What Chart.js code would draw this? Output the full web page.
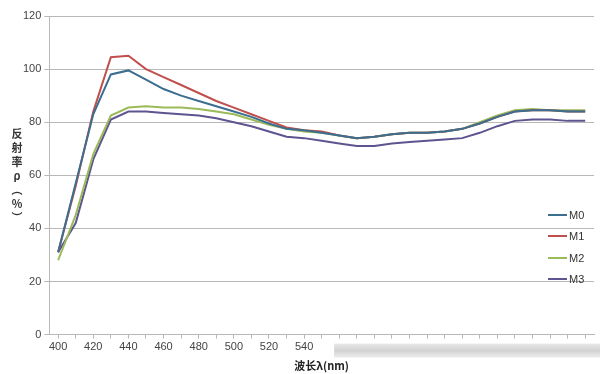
<!DOCTYPE html>
<html>
<head>
<meta charset="utf-8">
<script src="https://cdn.jsdelivr.net/npm/chart.js@4/dist/chart.umd.min.js"></script>
<style>
  html, body { margin: 0; padding: 0; background: #fff; }
  #wrap { position: relative; width: 600px; height: 374px; }
  #ytitle {
    position: absolute; left: 9px; top: 128px;
    writing-mode: vertical-rl; font: bold 11px "Noto Sans CJK SC", sans-serif;
    color: #333; letter-spacing: 3px;
  }
  #ytitle .up { text-orientation: upright; }
  #legend { position: absolute; left: 548px; top: 204px; font: 11px "Liberation Sans", Arial, sans-serif; color: #333; }
  #legend div { height: 21.5px; display: flex; align-items: center; }
  #legend i { display: inline-block; width: 19px; height: 2px; margin-right: 2px; }
</style>
</head>
<body>
<div id="wrap">
  <canvas id="c" width="600" height="374"></canvas>
  <div id="ytitle">反射率<span class="up">ρ</span>（<span class="up">%</span>）</div>
  <div id="legend"></div>
</div>
<script>
// 波长 400–700 nm, 每 10 nm 一个点
const wavelengths = [400, 410, 420, 430, 440, 450, 460, 470, 480, 490, 500, 510, 520, 530, 540, 550,
  560, 570, 580, 590, 600, 610, 620, 630, 640, 650, 660, 670, 680, 690, 700];
const lastLabel = 540; // 后面的刻度标签被涂掉了

const seriesNames = ['M0', 'M1', 'M2', 'M3'];
const seriesColors = ['#3b6e8f', '#c0504d', '#9bbb59', '#5e5490'];

const m0 = [31, 57, 83, 98, 99.5, 96, 92.5, 90, 88, 86, 84, 82, 79.5, 77.5, 77, 76,
  75, 74, 74.5, 75.5, 76, 76, 76.5, 77.5, 79.5, 82, 84, 84.5, 84.5, 84, 84];
const m1 = [31, 56, 84, 104.5, 105, 100, 97, 94, 91, 88, 85.5, 83, 80.5, 78, 77, 76.5,
  75, 74, 74.5, 75.5, 76, 76, 76.5, 77.5, 79.5, 82, 84, 84.5, 84.5, 84, 84];
const m2 = [28, 45, 68, 82.5, 85.5, 86, 85.5, 85.5, 85, 84, 83, 81, 79, 77.5, 76.5, 76,
  75, 74, 74.5, 75.5, 76, 76, 76.5, 77.5, 80, 82.5, 84.5, 85, 84.5, 84.5, 84.5];
const m3 = [31, 42, 66, 81, 84, 84, 83.5, 83, 82.5, 81.5, 80, 78.5, 76.5, 74.5, 74, 73,
  72, 71, 71, 72, 72.5, 73, 73.5, 74, 76, 78.5, 80.5, 81, 81, 80.5, 80.5];
const allSeries = [m0, m1, m2, m3];

const yTicks = [0, 20, 40, 60, 80, 100, 120];

// 被模糊处理的刻度区域
const blurStrip = {
  id: 'blurStrip',
  afterDraw(chart) {
    const x = chart.scales.x;
    const ctx = chart.ctx;
    const x0 = x.getPixelForValue(wavelengths.indexOf(lastLabel)) + 30;
    const y0 = x.top + 9;
    const g = ctx.createLinearGradient(0, y0, 0, y0 + 14);
    g.addColorStop(0, '#e8e8e8');
    g.addColorStop(0.5, '#d2d2d2');
    g.addColorStop(1, '#eeeeee');
    ctx.save();
    ctx.fillStyle = g;
    ctx.fillRect(x0, y0, chart.width - x0, 14);
    ctx.restore();
  }
};

Chart.defaults.font.family = '"Liberation Sans", Arial, sans-serif';
Chart.defaults.font.size = 11;
Chart.defaults.color = '#444';

new Chart(document.getElementById('c'), {
  type: 'line',
  data: {
    labels: wavelengths,
    datasets: allSeries.map((d, i) => ({
      label: seriesNames[i],
      data: d,
      borderColor: seriesColors[i],
      backgroundColor: seriesColors[i],
      borderWidth: 2,
      pointRadius: 0,
      tension: 0
    }))
  },
  options: {
    responsive: false,
    animation: false,
    layout: { padding: { left: 20, top: 16, right: 6, bottom: 2 } },
    plugins: { legend: { display: false }, tooltip: { enabled: false } },
    scales: {
      x: {
        offset: true,
        grid: { drawOnChartArea: false, color: '#b8b8b8', tickLength: 4 },
        border: { color: '#b8b8b8' },
        ticks: {
          autoSkip: false, maxRotation: 0, padding: 2,
          callback: (v, i) => (i % 2 === 0 && wavelengths[i] <= lastLabel) ? wavelengths[i] : ''
        },
        title: {
          display: true, text: '波长λ(nm)', color: '#222',
          font: { family: '"Noto Sans CJK SC", sans-serif', size: 11, weight: 'bold' },
          padding: { top: 3, bottom: 0 }
        }
      },
      y: {
        min: 0, max: 120,
        afterBuildTicks: s => { s.ticks = yTicks.map(v => ({ value: v })); },
        grid: { color: '#b8b8b8', tickLength: 5 },
        border: { color: '#b8b8b8' },
        ticks: { padding: 3 }
      }
    }
  },
  plugins: [blurStrip]
});

document.getElementById('legend').innerHTML = seriesNames.map((n, i) =>
  `<div><i style="background:${seriesColors[i]}"></i>${n}</div>`).join('');
</script>
</body>
</html>
